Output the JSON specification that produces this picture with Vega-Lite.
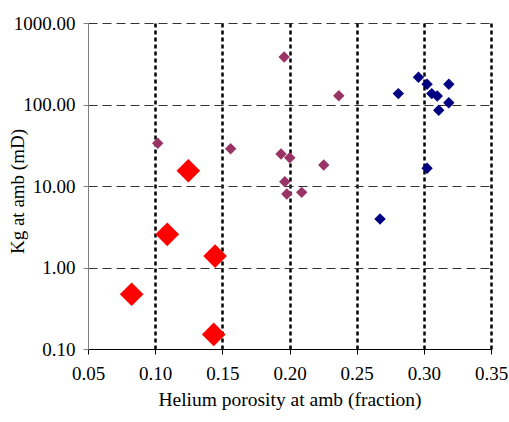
{
  "$schema": "https://vega.github.io/schema/vega-lite/v6.json",
  "autosize": "none",
  "width": 403,
  "height": 326,
  "padding": {"left": 88, "top": 23, "right": 18, "bottom": 73},
  "background": "white",
  "config": {
    "font": "Liberation Serif",
    "view": {"stroke": null},
    "axis": {"labelFont": "Liberation Serif", "titleFont": "Liberation Serif", "labelColor": "black", "titleColor": "black", "titleFontWeight": "normal"}
  },
  "data": {
    "values": [
      {"series": "A", "phi": 0.0825, "k": 0.47},
      {"series": "A", "phi": 0.109, "k": 2.55},
      {"series": "A", "phi": 0.1247, "k": 15.4},
      {"series": "A", "phi": 0.1446, "k": 1.38},
      {"series": "A", "phi": 0.1436, "k": 0.151},
      {"series": "B", "phi": 0.1019, "k": 33.4},
      {"series": "B", "phi": 0.1562, "k": 28.7},
      {"series": "B", "phi": 0.1937, "k": 24.7},
      {"series": "B", "phi": 0.2002, "k": 22.2},
      {"series": "B", "phi": 0.2255, "k": 18.1},
      {"series": "B", "phi": 0.1965, "k": 11.3},
      {"series": "B", "phi": 0.198, "k": 7.98},
      {"series": "B", "phi": 0.2091, "k": 8.36},
      {"series": "B", "phi": 0.196, "k": 383},
      {"series": "B", "phi": 0.2367, "k": 128},
      {"series": "C", "phi": 0.296, "k": 216},
      {"series": "C", "phi": 0.3024, "k": 177},
      {"series": "C", "phi": 0.281, "k": 136},
      {"series": "C", "phi": 0.3059, "k": 136},
      {"series": "C", "phi": 0.31, "k": 127},
      {"series": "C", "phi": 0.3186, "k": 177},
      {"series": "C", "phi": 0.3186, "k": 105},
      {"series": "C", "phi": 0.3111, "k": 84.9},
      {"series": "C", "phi": 0.3024, "k": 16.5},
      {"series": "C", "phi": 0.2674, "k": 3.94}
    ]
  },
  "mark": {"type": "point", "shape": "diamond", "filled": true, "opacity": 1},
  "encoding": {
    "x": {
      "field": "phi", "type": "quantitative",
      "scale": {"domain": [0.05, 0.35], "nice": false, "zero": false},
      "axis": {
        "title": "Helium porosity at amb (fraction)",
        "values": [0.05, 0.1, 0.15, 0.2, 0.25, 0.3, 0.35],
        "format": ".2f",
        "labelFontSize": 19, "titleFontSize": 19.5,
        "labelPadding": 10, "titlePadding": 7,
        "tickSize": 5, "tickColor": "black", "domainColor": "black",
        "labelFlush": false,
        "grid": true, "gridColor": "black", "gridWidth": 2.5, "gridDash": [4, 3],
        "gridOpacity": {"condition": {"test": "datum.value < 0.06", "value": 0}, "value": 1}
      }
    },
    "y": {
      "field": "k", "type": "quantitative",
      "scale": {"type": "log", "domain": [0.1, 1000], "nice": false},
      "axis": {
        "title": "Kg at amb (mD)",
        "values": [0.1, 1, 10, 100, 1000],
        "format": ".2f",
        "labelFontSize": 19, "titleFontSize": 19,
        "labelPadding": 8,
        "titleX": -65, "titleY": 168, "titleAngle": -90, "titleAlign": "center", "titleBaseline": "alphabetic",
        "tickSize": 5, "tickColor": "#808080", "domainColor": "#808080",
        "labelFlush": false,
        "grid": true, "gridColor": "#333333", "gridWidth": 1, "gridDash": [9, 5],
        "gridOpacity": {"condition": {"test": "datum.value < 0.2", "value": 0}, "value": 1}
      }
    },
    "color": {
      "field": "series", "type": "nominal",
      "scale": {"domain": ["A", "B", "C"], "range": ["#FF0000", "#993366", "#000080"]},
      "legend": null
    },
    "size": {
      "condition": {"test": "datum.series === 'A'", "value": 560},
      "value": 130
    }
  }
}
